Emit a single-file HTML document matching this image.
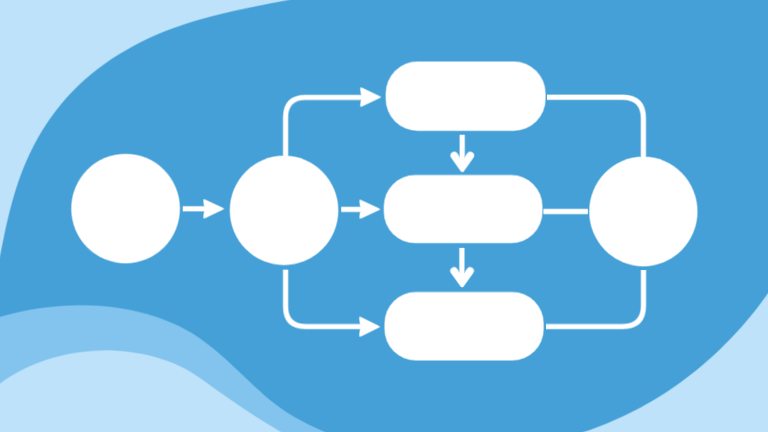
<!DOCTYPE html>
<html lang="en">
<head>
<meta charset="utf-8">
<title>Flowchart illustration</title>
<style>
html,body{margin:0;padding:0;width:768px;height:432px;overflow:hidden;background:#44a0d6;font-family:"Liberation Sans",sans-serif;}
svg{display:block;position:absolute;left:0;top:0;}
</style>
</head>
<body>
<svg width="768" height="432" viewBox="0 0 768 432" role="img" aria-label="Flowchart illustration">
<title>Flowchart illustration</title>
<rect x="-16" y="-16" width="800" height="464" fill="#44a0d6"/>
<g opacity="0.5"><path d="M312.0,-4.2C309.3,-3.6 301.0,-2.0 295.4,-0.9C289.9,0.2 284.3,1.2 278.8,2.3C273.2,3.3 267.7,4.4 262.1,5.5C256.6,6.6 251.0,7.7 245.5,8.9C239.9,10.0 234.4,11.2 228.9,12.5C223.4,13.8 217.9,15.1 212.5,16.5C207.0,17.9 201.6,19.4 196.2,21.0C190.8,22.6 185.4,24.3 180.1,26.2C174.7,28.0 169.4,29.9 164.2,32.1C159.0,34.2 153.8,36.4 148.6,38.8C143.5,41.2 138.4,43.7 133.4,46.4C128.5,49.1 123.5,52.0 118.7,55.0C113.9,57.9 109.2,61.1 104.6,64.4C100.0,67.7 95.5,71.1 91.2,74.7C86.9,78.3 82.6,82.0 78.6,85.9C74.5,89.8 70.6,93.8 66.9,98.0C63.2,102.1 59.6,106.5 56.2,110.9C52.8,115.3 49.6,119.9 46.5,124.6C43.4,129.3 40.5,134.1 37.8,139.0C35.0,143.9 32.5,148.9 30.0,154.0C27.6,159.1 25.4,164.3 23.3,169.5C21.2,174.7 19.3,180.1 17.5,185.4C15.7,190.8 14.1,196.3 12.6,201.7C11.1,207.2 9.7,212.7 8.4,218.2C7.1,223.7 5.9,229.3 4.7,234.9C3.5,240.4 2.5,246.0 1.4,251.5C0.3,257.0 -1.3,265.3 -1.9,268.1L-16,280L-16,-16L320,-16Z" fill="#bde2fa"/></g>
<path d="M311.9,-5.0C309.1,-4.4 300.8,-2.8 295.3,-1.7C289.8,-0.6 284.2,0.4 278.6,1.5C273.1,2.6 267.5,3.6 262.0,4.7C256.4,5.8 250.9,6.9 245.3,8.1C239.8,9.2 234.2,10.4 228.7,11.7C223.2,13.0 217.7,14.3 212.3,15.7C206.8,17.1 201.3,18.6 195.9,20.2C190.5,21.9 185.1,23.6 179.8,25.4C174.5,27.2 169.2,29.2 163.9,31.3C158.7,33.4 153.4,35.7 148.3,38.1C143.2,40.5 138.1,43.0 133.1,45.7C128.1,48.4 123.1,51.3 118.3,54.3C113.5,57.3 108.7,60.4 104.1,63.7C99.5,67.0 95.0,70.5 90.7,74.1C86.3,77.7 82.1,81.4 78.0,85.3C74.0,89.2 70.1,93.2 66.3,97.4C62.6,101.6 59.0,106.0 55.6,110.4C52.2,114.9 48.9,119.5 45.8,124.2C42.7,128.9 39.8,133.7 37.1,138.6C34.3,143.5 31.7,148.6 29.3,153.7C26.9,158.8 24.6,164.0 22.5,169.2C20.5,174.5 18.5,179.8 16.8,185.2C15.0,190.6 13.4,196.0 11.9,201.5C10.3,207.0 9.0,212.5 7.6,218.0C6.3,223.6 5.1,229.1 3.9,234.7C2.8,240.2 1.7,245.8 0.6,251.3C-0.5,256.9 -2.1,265.2 -2.7,267.9L-16,280L-16,-16L320,-16Z" fill="#bde2fa"/>
<g opacity="0.5"><path d="M774.6,282.7C773.5,284.4 770.1,289.6 767.7,293.0C765.3,296.3 762.9,299.7 760.4,303.0C757.9,306.3 755.4,309.5 752.8,312.8C750.3,316.0 747.6,319.1 744.9,322.3C742.3,325.4 739.5,328.5 736.8,331.5C734.0,334.6 731.1,337.6 728.3,340.5C725.4,343.4 722.5,346.3 719.5,349.2C716.5,352.0 713.5,354.8 710.5,357.6C707.4,360.3 704.3,363.0 701.2,365.7C698.0,368.3 694.8,370.9 691.6,373.4C688.4,376.0 685.1,378.5 681.8,380.9C678.5,383.3 675.1,385.7 671.7,388.0C668.4,390.3 664.9,392.6 661.5,394.7C658.0,396.9 654.5,399.1 651.0,401.2C647.4,403.2 643.8,405.2 640.2,407.2C636.6,409.1 633.0,411.0 629.3,412.8C625.6,414.7 621.9,416.4 618.2,418.1C614.4,419.8 610.7,421.4 606.9,423.0C603.1,424.5 599.2,426.0 595.4,427.4C591.5,428.9 587.6,430.2 583.7,431.5C579.8,432.8 573.8,434.5 571.9,435.1L560,448L784,448L784,270Z" fill="#bde2fa"/></g>
<path d="M775.3,283.2C774.1,284.9 770.7,290.0 768.3,293.4C766.0,296.8 763.5,300.2 761.1,303.5C758.6,306.8 756.0,310.0 753.5,313.3C750.9,316.5 748.2,319.7 745.6,322.8C742.9,325.9 740.1,329.0 737.3,332.1C734.6,335.1 731.7,338.1 728.8,341.1C726.0,344.0 723.0,346.9 720.1,349.8C717.1,352.6 714.1,355.4 711.0,358.2C707.9,360.9 704.8,363.6 701.7,366.3C698.5,368.9 695.3,371.5 692.1,374.1C688.9,376.6 685.6,379.1 682.3,381.5C678.9,384.0 675.6,386.3 672.2,388.7C668.8,391.0 665.4,393.2 661.9,395.4C658.4,397.6 654.9,399.8 651.4,401.8C647.8,403.9 644.2,405.9 640.6,407.9C637.0,409.8 633.3,411.7 629.7,413.6C626.0,415.4 622.3,417.1 618.5,418.8C614.8,420.5 611.0,422.2 607.2,423.7C603.4,425.3 599.5,426.8 595.6,428.2C591.8,429.6 587.9,431.0 584.0,432.2C580.0,433.5 574.1,435.3 572.1,435.9L560,448L784,448L784,270Z" fill="#bde2fa"/>
<g opacity="0.5"><path d="M-12.0,320.2C-9.8,319.5 -3.2,317.3 1.4,316.0C5.9,314.7 10.5,313.5 15.2,312.4C19.9,311.3 24.7,310.3 29.5,309.5C34.3,308.6 39.1,307.8 44.0,307.2C48.9,306.6 53.8,306.1 58.8,305.7C63.7,305.3 68.7,305.1 73.7,304.9C78.6,304.8 83.6,304.8 88.6,305.0C93.6,305.1 98.6,305.4 103.5,305.8C108.4,306.2 113.4,306.8 118.3,307.5C123.2,308.2 128.0,309.1 132.8,310.1C137.6,311.1 142.4,312.3 147.1,313.6C151.8,315.0 156.4,316.4 161.0,318.1C165.5,319.8 170.0,321.6 174.4,323.6C178.7,325.6 183.0,327.7 187.2,330.1C191.4,332.4 195.5,334.9 199.4,337.6C203.4,340.3 207.2,343.2 211.0,346.2C214.8,349.1 218.4,352.3 222.1,355.4C225.7,358.6 229.2,361.9 232.8,365.2C236.3,368.5 239.8,371.9 243.4,375.2C246.9,378.5 250.4,381.9 253.9,385.2C257.4,388.5 261.0,391.7 264.6,394.9C268.2,398.0 271.9,401.1 275.7,404.0C279.5,406.9 283.4,409.7 287.5,412.3C291.6,414.9 295.7,417.3 300.0,419.6C304.3,421.9 308.7,424.1 313.2,426.2C317.6,428.2 322.1,430.2 326.6,432.1C331.1,434.1 337.9,436.8 340.2,437.8L340,448L-16,448L-16,320Z" fill="#82c4ee"/></g>
<path d="M-11.8,320.9C-9.6,320.2 -2.9,318.0 1.6,316.7C6.1,315.4 10.7,314.2 15.4,313.2C20.1,312.1 24.8,311.1 29.6,310.2C34.4,309.4 39.2,308.6 44.1,308.0C49.0,307.4 53.9,306.9 58.8,306.5C63.8,306.1 68.7,305.9 73.7,305.7C78.6,305.6 83.6,305.6 88.6,305.8C93.5,305.9 98.5,306.2 103.4,306.6C108.4,307.0 113.3,307.6 118.1,308.3C123.0,309.0 127.9,309.9 132.7,310.9C137.4,311.9 142.2,313.1 146.9,314.4C151.5,315.7 156.2,317.2 160.7,318.9C165.2,320.5 169.7,322.3 174.0,324.3C178.4,326.3 182.7,328.4 186.8,330.8C191.0,333.1 195.0,335.6 199.0,338.3C202.9,341.0 206.7,343.8 210.5,346.8C214.3,349.8 217.9,352.9 221.5,356.0C225.2,359.2 228.7,362.5 232.2,365.8C235.8,369.1 239.3,372.5 242.8,375.8C246.3,379.1 249.8,382.5 253.4,385.8C256.9,389.1 260.4,392.3 264.1,395.5C267.7,398.6 271.4,401.7 275.2,404.6C279.0,407.5 283.0,410.3 287.1,412.9C291.1,415.5 295.4,418.0 299.6,420.3C303.9,422.6 308.4,424.8 312.8,426.9C317.3,429.0 321.8,430.9 326.3,432.9C330.8,434.8 337.6,437.6 339.9,438.5L340,448L-16,448L-16,320Z" fill="#82c4ee"/>
<g opacity="0.5"><path d="M-12.3,393.1C-10.5,391.6 -5.4,387.1 -1.8,384.3C1.8,381.5 5.6,378.9 9.5,376.5C13.3,374.1 17.3,371.8 21.4,369.7C25.5,367.6 29.7,365.7 33.9,363.9C38.2,362.2 42.5,360.6 46.9,359.2C51.3,357.8 55.8,356.5 60.2,355.4C64.7,354.3 69.3,353.4 73.9,352.6C78.4,351.9 83.1,351.3 87.7,350.9C92.3,350.4 96.9,350.2 101.5,350.1C106.1,350.0 110.8,350.0 115.3,350.3C119.9,350.5 124.5,350.9 129.0,351.4C133.5,352.0 138.0,352.7 142.5,353.6C146.9,354.4 151.2,355.5 155.5,356.7C159.8,357.9 164.1,359.2 168.2,360.7C172.2,362.3 176.3,363.9 180.0,365.7C183.8,367.5 187.3,369.5 190.8,371.5C194.3,373.6 197.5,375.8 200.8,378.1C204.1,380.4 207.3,382.7 210.7,385.2C214.0,387.6 217.5,390.1 221.0,392.6C224.5,395.1 228.2,397.6 231.9,400.1C235.5,402.7 239.3,405.3 243.1,407.8C247.0,410.3 250.8,412.9 254.7,415.4C258.6,417.9 262.6,420.4 266.5,422.8C270.4,425.2 274.4,427.6 278.3,429.9C282.3,432.2 288.2,435.5 290.1,436.6L340,448L-16,448L-16,320Z" fill="#bde2fa"/></g>
<path d="M-11.7,393.7C-10.0,392.2 -4.9,387.7 -1.3,384.9C2.3,382.2 6.0,379.6 9.9,377.2C13.7,374.8 17.7,372.5 21.8,370.4C25.8,368.3 30.0,366.4 34.2,364.7C38.4,362.9 42.8,361.4 47.1,359.9C51.5,358.5 56.0,357.3 60.4,356.2C64.9,355.1 69.5,354.2 74.0,353.4C78.6,352.7 83.2,352.1 87.7,351.7C92.3,351.2 97.0,351.0 101.5,350.9C106.1,350.8 110.7,350.8 115.3,351.1C119.9,351.3 124.4,351.7 128.9,352.2C133.4,352.8 137.9,353.5 142.3,354.3C146.7,355.2 151.1,356.2 155.3,357.4C159.6,358.6 163.8,360.0 167.9,361.5C171.9,363.0 175.9,364.7 179.7,366.4C183.4,368.2 186.9,370.2 190.4,372.2C193.8,374.3 197.1,376.5 200.4,378.7C203.7,381.0 206.9,383.4 210.2,385.8C213.6,388.2 217.0,390.7 220.5,393.2C224.1,395.7 227.7,398.3 231.4,400.8C235.1,403.3 238.9,405.9 242.7,408.5C246.5,411.0 250.4,413.6 254.3,416.1C258.2,418.6 262.1,421.1 266.1,423.5C270.0,425.9 274.0,428.3 277.9,430.6C281.9,432.9 287.8,436.2 289.7,437.3L340,448L-16,448L-16,320Z" fill="#bde2fa"/>
<g opacity="0.5"><g fill="none" stroke="#ffffff" stroke-width="6.00"><path d="M182.8,208.8H206"/><path d="M341.3,209.4H362"/><path d="M285.6,157V117.4Q285.6,97.4 305.6,97.4H363"/><path d="M285.6,269.8V306.6Q285.6,326.6 305.6,326.6H363"/><path d="M547,97.3H622.4Q643.4,97.3 643.4,118.3V158"/><path d="M546,326.6H622.5Q643.5,326.6 643.5,305.6V270.1"/><path d="M543.5,211.5H587.8"/><path d="M462.2,134.8V166"/><path d="M461.9,247.9V281"/></g><g fill="#ffffff"><path d="M223.12,210.08Q225.84,208.80 223.12,207.52L205.57,199.22Q202.50,197.77 202.96,201.14L204.00,208.80L202.96,216.46Q202.50,219.83 205.57,218.38Z"/><path d="M379.23,210.47Q381.94,209.20 379.23,207.93L361.68,199.71Q358.60,198.27 359.06,201.64L360.10,209.20L359.06,216.76Q358.60,220.13 361.68,218.69Z"/><path d="M380.02,98.39Q382.73,97.10 380.02,95.81L362.47,87.43Q359.40,85.97 359.85,89.34L360.90,97.10L359.85,104.86Q359.40,108.23 362.47,106.77Z"/><path d="M379.01,328.02Q381.71,326.70 379.01,325.38L361.45,316.76Q358.40,315.26 358.84,318.63L359.90,326.70L358.84,334.77Q358.40,338.14 361.45,336.64Z"/><path d="M450.80,157.92A4.20,4.20 0 0 1 457.68,153.08L462.30,159.67L466.92,153.08A4.20,4.20 0 0 1 473.80,157.92L464.26,171.48A2.40,2.40 0 0 1 460.34,171.48Z"/><path d="M450.63,273.35A4.20,4.20 0 0 1 457.45,268.45L462.10,274.92L466.75,268.45A4.20,4.20 0 0 1 473.57,273.35L464.05,286.60A2.40,2.40 0 0 1 460.15,286.60Z"/></g><g fill="#ffffff"><ellipse cx="125.6" cy="208.6" rx="54.75" ry="55.20"/><ellipse cx="284.05" cy="210.4" rx="54.65" ry="55.10"/><ellipse cx="643.35" cy="211.5" rx="54.55" ry="55.20"/><rect x="385.30" y="61.10" width="160.70" height="70.20" rx="32.40" ry="32.40"/><rect x="383.40" y="174.60" width="159.50" height="69.00" rx="31.90" ry="31.90"/><rect x="384.10" y="291.60" width="160.00" height="69.30" rx="31.90" ry="31.90"/></g></g>
<g fill="none" stroke="#ffffff" stroke-width="4.40"><path d="M182.8,208.8H206"/><path d="M341.3,209.4H362"/><path d="M285.6,157V117.4Q285.6,97.4 305.6,97.4H363"/><path d="M285.6,269.8V306.6Q285.6,326.6 305.6,326.6H363"/><path d="M547,97.3H622.4Q643.4,97.3 643.4,118.3V158"/><path d="M546,326.6H622.5Q643.5,326.6 643.5,305.6V270.1"/><path d="M543.5,211.5H587.8"/><path d="M462.2,134.8V166"/><path d="M461.9,247.9V281"/></g>
<g fill="#ffffff"><path d="M221.98,209.74Q223.96,208.80 221.98,207.86L205.65,200.14Q203.30,199.03 203.69,201.60L204.80,208.80L203.69,216.00Q203.30,218.57 205.65,217.46Z"/><path d="M378.06,210.13Q380.06,209.20 378.06,208.27L361.75,200.63Q359.40,199.53 359.80,202.10L360.90,209.20L359.80,216.30Q359.40,218.87 361.75,217.77Z"/><path d="M378.89,98.05Q380.87,97.10 378.89,96.15L362.55,88.35Q360.20,87.23 360.59,89.80L361.70,97.10L360.59,104.40Q360.20,106.97 362.55,105.85Z"/><path d="M377.92,327.67Q379.89,326.70 377.92,325.73L361.53,317.69Q359.20,316.54 359.58,319.11L360.70,326.70L359.58,334.29Q359.20,336.86 361.53,335.71Z"/><path d="M451.46,157.46A3.40,3.40 0 0 1 457.02,153.54L462.30,161.06L467.58,153.54A3.40,3.40 0 0 1 473.14,157.46L463.61,171.02A1.60,1.60 0 0 1 460.99,171.02Z"/><path d="M451.28,272.88A3.40,3.40 0 0 1 456.80,268.92L462.10,276.29L467.40,268.92A3.40,3.40 0 0 1 472.92,272.88L463.40,286.13A1.60,1.60 0 0 1 460.80,286.13Z"/></g>
<g fill="#ffffff"><ellipse cx="125.6" cy="208.6" rx="53.95" ry="54.40"/><ellipse cx="284.05" cy="210.4" rx="53.85" ry="54.30"/><ellipse cx="643.35" cy="211.5" rx="53.75" ry="54.40"/><rect x="386.10" y="61.90" width="159.10" height="68.60" rx="31.60" ry="31.60"/><rect x="384.20" y="175.40" width="157.90" height="67.40" rx="31.10" ry="31.10"/><rect x="384.90" y="292.40" width="158.40" height="67.70" rx="31.10" ry="31.10"/></g>
</svg>
</body>
</html>
